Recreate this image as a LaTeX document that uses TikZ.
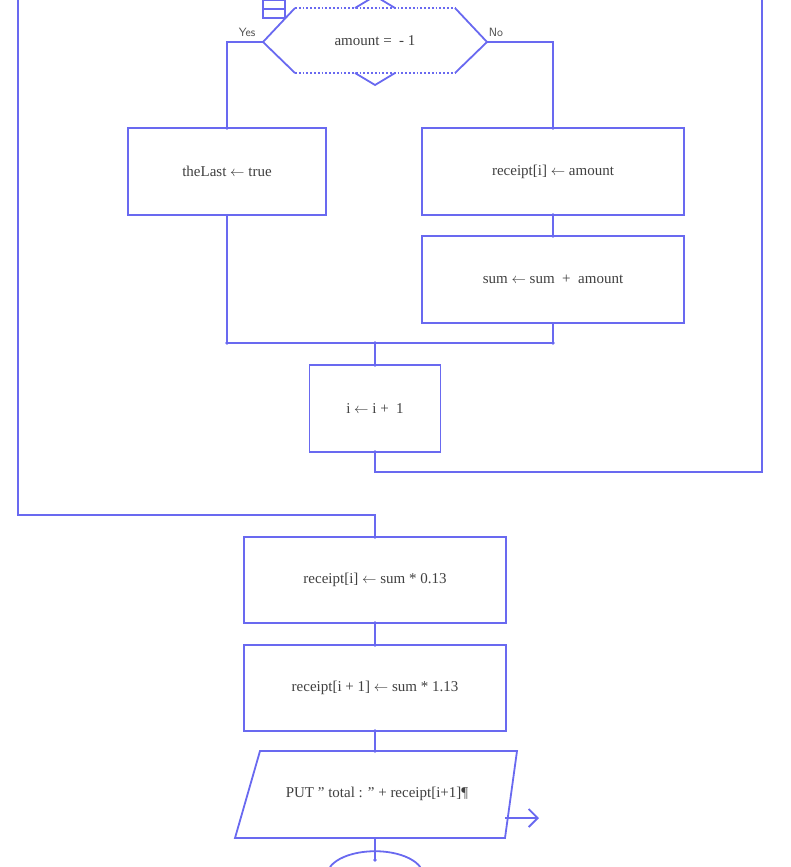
\documentclass[tikz,border=0pt]{standalone}
\usepackage{fontspec}
\setmainfont{Liberation Serif}
\usetikzlibrary{arrows.meta,positioning,calc}
\definecolor{flowblue}{RGB}{105,105,240}
\tikzset{
  x=1pt, y=-1pt,
  line/.style={draw=flowblue, line width=1.8pt},
  stepbox/.style={draw=flowblue, line width=1.8pt, fill=white, font=\fontsize{15}{17}\selectfont, text=black!75},
  dot/.style={circle, fill=flowblue, inner sep=1.3pt},
}
\begin{document}
\begin{tikzpicture}
\useasboundingbox (0,0) rectangle (790,867);
% outer loop lines
\coordinate (lt) at (18,0);
\coordinate (lb) at (18,515);
\coordinate (rt) at (762,0);
\coordinate (rb) at (762,472);
% boxes
\node[stepbox, minimum width=198, minimum height=87] (last) at (227,171.5) {theLast $\leftarrow$ true};
\node[stepbox, minimum width=262, minimum height=87] (rec) at (553,171.5) {receipt[i] $\leftarrow$ amount};
\node[stepbox, minimum width=262, minimum height=87] (sum) at (553,279.5) {sum $\leftarrow$ sum \ + \ amount};
\node[stepbox, minimum width=131, minimum height=87] (inc) at (375,408.5) {i $\leftarrow$ i + \ 1};
\node[stepbox, minimum width=262, minimum height=86] (tax) at (375,580) {receipt[i] $\leftarrow$ sum * 0.13};
\node[stepbox, minimum width=262, minimum height=86] (tot) at (375,688) {receipt[i + 1] $\leftarrow$ sum * 1.13};
% decision
\draw[line, fill=white] (295,8) -- (263,42) -- (295,73);
\draw[line] (455,8) -- (487,42) -- (455,73);
\draw[line, dotted] (295,8) -- (455,8) (295,73) -- (455,73);
\draw[line] (355,8) -- (375,-4) -- (395,8);
\draw[line] (355,73) -- (375,85) -- (395,73);
\draw[line, fill=white] (263,0) rectangle (285,18);
\draw[line] (263,9) -- (285,9);
\node[font=\fontsize{15}{17}\selectfont, text=black!75] (cond) at (375,41) {amount = \ - 1};
\node[font=\sffamily\fontsize{12}{14}\selectfont, text=black!70] (yes) at (247,32) {Yes};
\node[font=\sffamily\fontsize{12}{14}\selectfont, text=black!70] (no) at (496,32) {No};
% output
\draw[line, fill=white] (260,751) coordinate (pa) -- (517,751) -- (505,838) -- (235,838) -- cycle;
\node[font=\fontsize{15}{17}\selectfont, text=black!75] (put) at (377,794) {PUT " total : " + receipt[i+1]\P};
\coordinate (pout) at (505,818);
\draw[line, -{Straight Barb[length=9pt,width=18pt]}] (pout) -- ++(34,0);
% terminal
\draw[line] (330,867) arc[start angle=160, end angle=20, x radius=48, y radius=-24];
% connectors
\draw[line] (263,42) -| (last.north);
\draw[line] (487,42) -| (rec.north);
\draw[line] (rec.south) -- (sum.north);
\draw[line] (last.south) -- (last.south |- 0,343) -- (sum.south |- 0,343) -- (sum.south);
\draw[line] (inc.north |- 0,343) -- (inc.north);
\draw[line] (inc.south) -- (inc.south |- 0,472) -- (rb) -- (rt);
\draw[line] (lt) -- (lb) -- (tax.north |- 0,515) -- (tax.north);
\draw[line] (tax.south) -- (tot.north);
\draw[line] (tot.south) -- (375,751);
\draw[line] (375,838) -- (375,860);
% junction dots
\foreach \p in {(227,128),(553,128),(553,215),(553,236),(227,343),(553,343),(375,343),(375,365),(375,452),(375,537),(375,623),(375,645),(375,731),(375,751),(375,860)}
  \node[dot] at \p {};
\end{tikzpicture}
\end{document}
